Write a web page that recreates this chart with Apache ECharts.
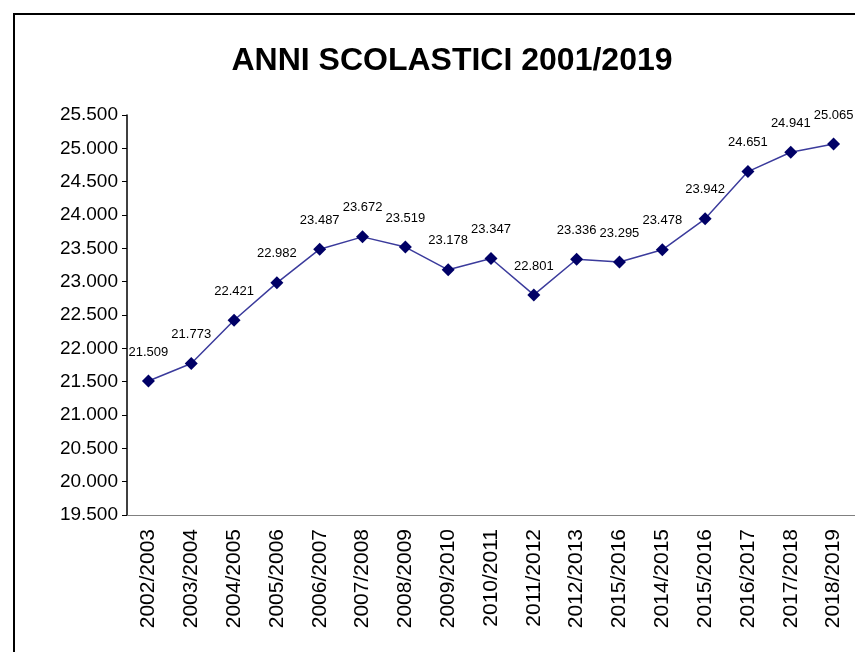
<!DOCTYPE html>
<html>
<head>
<meta charset="utf-8">
<script src="https://cdn.jsdelivr.net/npm/echarts@6/dist/echarts.min.js"></script>
<style>
  html, body { margin: 0; padding: 0; background: #fff; }
  #chart { width: 855px; height: 652px; }
</style>
</head>
<body>
<div id="chart"></div>
<script>
// anni scolastici (etichette come nel grafico originale)
const anni = ['2002/2003', '2003/2004', '2004/2005', '2005/2006', '2006/2007', '2007/2008',
  '2008/2009', '2009/2010', '2010/2011', '2011/2012', '2012/2013', '2015/2016',
  '2014/2015', '2015/2016', '2016/2017', '2017/2018', '2018/2019'];
const valori = [21509, 21773, 22421, 22982, 23487, 23672, 23519, 23178, 23347, 22801,
  23336, 23295, 23478, 23942, 24651, 24941, 25065];
const yMin = 19500;
const yMax = 25500;
const yStep = 500;

// formato italiano con punto delle migliaia
function fmt(v) {
  const k = Math.floor(v / 1000);
  const r = String(v % 1000).padStart(3, '0');
  return k + '.' + r;
}

const chart = echarts.init(document.getElementById('chart'));
chart.setOption({
  animation: false,
  backgroundColor: '#fff',
  textStyle: { fontFamily: 'Liberation Sans, Arial, sans-serif' },
  title: {
    text: 'ANNI SCOLASTICI 2001/2019',
    left: 447,
    top: 40,
    textAlign: 'center',
    textStyle: { fontSize: 32, fontWeight: 'bold', color: '#000' }
  },
  graphic: [{
    type: 'rect',
    shape: { x: 14, y: 14, width: 900, height: 700 },
    style: { fill: 'none', stroke: '#000', lineWidth: 2 }
  }],
  grid: { left: 127, top: 115, width: 729, height: 400 },
  xAxis: {
    type: 'category',
    data: anni,
    boundaryGap: true,
    axisLine: { lineStyle: { color: '#808080', width: 1 } },
    axisTick: { length: 8, lineStyle: { color: '#808080' } },
    axisLabel: { rotate: 90, margin: 14, fontSize: 21, color: '#000', interval: 0 },
    splitLine: { show: false }
  },
  yAxis: {
    type: 'value',
    min: yMin,
    max: yMax,
    interval: yStep,
    axisLine: { show: true, lineStyle: { color: '#000', width: 1.5 } },
    axisTick: { show: true, length: 5, lineStyle: { color: '#000' } },
    axisLabel: { fontSize: 19, color: '#000', margin: 9, formatter: fmt },
    splitLine: { show: false }
  },
  series: [{
    type: 'line',
    data: valori,
    symbol: 'diamond',
    symbolSize: 13,
    lineStyle: { color: '#3b3b9c', width: 1.5 },
    itemStyle: { color: '#000066' },
    label: {
      show: true,
      position: 'top',
      distance: 16,
      fontSize: 13,
      color: '#000',
      formatter: p => fmt(p.value)
    }
  }]
});
</script>
</body>
</html>
